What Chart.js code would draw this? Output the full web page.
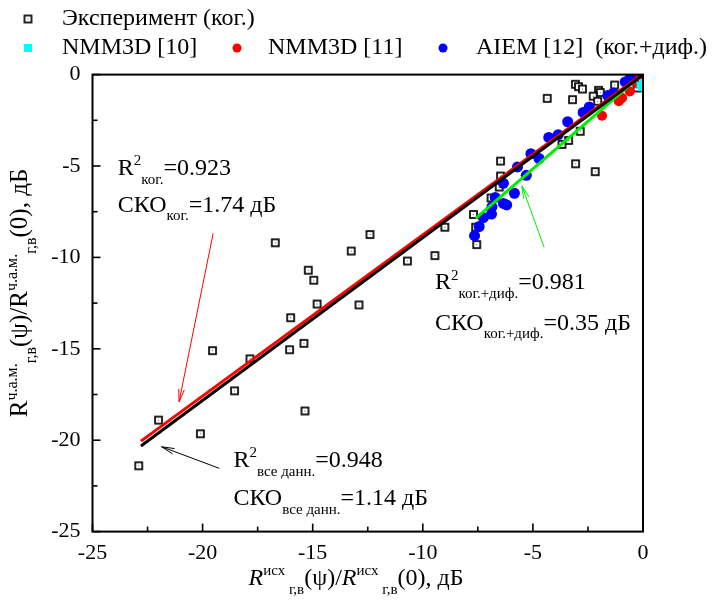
<!DOCTYPE html>
<html>
<head>
<meta charset="utf-8">
<script src="https://cdn.jsdelivr.net/npm/chart.js@4.4.1/dist/chart.umd.min.js"></script>
<style>
  html, body { margin: 0; padding: 0; background: #fff; }
  #wrap { width: 717px; height: 608px; }
</style>
</head>
<body>
<div id="wrap"><canvas id="chart" width="717" height="608"></canvas></div>
<script>
// ═══ data (dB) ═══
const expX = [-22.9, -22.0, -20.1, -19.55, -18.55, -17.85, -16.05, -15.4, -15.35, -16.7, -12.4, -13.25, -15.2, -14.95, -14.8, -16.0, -12.9, -10.7, -9.45, -9.0, -7.6, -7.55, -6.47, -6.47, -6.53, -6.9, -7.7, -3.06, -2.17, -4.35, -3.2, -3.07, -2.93, -2.75, -2.02, -1.94, -2.26, -2.06, -1.29, -0.27, -3.38, -3.68, -2.85];
const expY = [-21.4, -18.9, -19.65, -15.1, -17.3, -15.55, -15.05, -14.7, -18.4, -9.2, -8.75, -9.65, -10.7, -11.25, -12.55, -13.3, -12.6, -10.2, -9.9, -8.35, -8.35, -9.3, -4.73, -5.55, -6.15, -6.75, -7.65, -4.88, -5.31, -1.3, -1.37, -0.53, -0.66, -0.79, -0.86, -0.98, -1.18, -1.46, -0.57, -0.73, -3.6, -3.82, -3.1];

const nmm10X = [-0.15, -0.08, -0.04];
const nmm10Y = [-0.57, -0.72, -0.42];

const nmm11X = [-1.86, -1.1, -0.95, -0.6, -0.3, -0.12];
const nmm11Y = [-2.25, -1.46, -1.28, -0.92, -0.47, -0.2];

const aiemX = [-7.65, -7.44, -7.25, -6.88, -6.86, -6.71, -6.34, -6.19, -5.84, -6.34, -5.7, -5.3, -5.09, -4.72, -4.28, -3.85, -3.42, -2.72, -2.44, -1.6, -1.34, -0.81, -0.63, -0.35, -0.21];
const aiemY = [-8.81, -8.31, -7.83, -7.63, -7.23, -6.72, -7.05, -7.13, -6.49, -5.95, -5.05, -5.51, -4.33, -4.59, -3.44, -3.29, -2.58, -2.07, -1.77, -1.15, -1.0, -0.4, -0.27, -0.15, -0.05];

// regression lines: coherent, all data, coherent+diffuse
const fitCohX = [-22.8, 0];
const fitCohY = [-20.05, 0.05];
const fitAllX = [-22.8, 0];
const fitAllY = [-20.32, -0.02];
const fitCdX = [-7.6, 0];
const fitCdY = [-7.86, 0.05];

const axisMin = -25;
const axisMax = 0;
const axisStep = 5;

const legendLabels = ["Эксперимент (ког.)", "NMM3D [10]", "NMM3D [11]", "AIEM [12]  (ког.+диф.)"];

// annotations, anchored in data units
const notes = [
  { x: -23.85, y: -5.49, head: "R", sup: "2", sub: "ког.", tail: "=0.923" },
  { x: -23.85, y: -7.5, head: "СКО", sup: "", sub: "ког.", tail: "=1.74 дБ" },
  { x: -9.45, y: -11.75, head: "R", sup: "2", sub: "ког.+диф.", tail: "=0.981" },
  { x: -9.45, y: -13.95, head: "СКО", sup: "", sub: "ког.+диф.", tail: "=0.35 дБ" },
  { x: -18.6, y: -21.47, head: "R", sup: "2", sub: "все данн.", tail: "=0.948" },
  { x: -18.6, y: -23.54, head: "СКО", sup: "", sub: "все данн.", tail: "=1.14 дБ" },
];
const arrows = [
  { from: [-19.52, -8.68], to: [-21.07, -17.9], color: "#ff0000" },
  { from: [-19.24, -21.54], to: [-21.86, -20.36], color: "#000000" },
  { from: [-4.49, -9.45], to: [-5.5, -6.09], color: "#00ee00" },
];

const FONT = '"Liberation Serif", "Times New Roman", serif';
const zip = (xs, ys) => xs.map((x, i) => ({ x, y: ys[i] }));

function expMarker() {
  const c = document.createElement("canvas");
  c.width = 11; c.height = 11;
  const g = c.getContext("2d");
  g.fillStyle = "#fff";
  g.fillRect(2, 2, 7, 7);
  g.strokeStyle = "#000";
  g.lineWidth = 1.7;
  g.strokeRect(2, 2, 7, 7);
  g.fillStyle = "#666";
  g.fillRect(5, 5, 1, 1);
  return c;
}
const expStyle = expMarker();

// draws text with Origin-like super/subscripts, returns width
function drawRich(ctx, x, y, parts, M, S, measureOnly) {
  let cx = x;
  parts.forEach((p) => {
    if (!p.t) return;
    const size = p.k === "n" ? M : S;
    ctx.font = `${p.i ? "italic " : ""}${size}px ${FONT}`;
    const dy = p.k === "sup" ? -0.4 * M : p.k === "sub" ? 0.36 * M : 0;
    if (!measureOnly) ctx.fillText(p.t, cx, y + dy);
    cx += ctx.measureText(p.t).width;
  });
  return cx - x;
}

const yTitle = [
  { t: "R", k: "n" }, { t: "ч.а.м.", k: "sup" }, { t: "г,в", k: "sub" }, { t: "(ψ)/R", k: "n" },
  { t: "ч.а.м.", k: "sup" }, { t: "г,в", k: "sub" }, { t: "(0), дБ", k: "n" },
];
const xTitle = [
  { t: "R", k: "n", i: 1 }, { t: "исх", k: "sup" }, { t: " г,в", k: "sub" }, { t: "(ψ)/", k: "n" },
  { t: "R", k: "n", i: 1 }, { t: "исх", k: "sup" }, { t: " г,в", k: "sub" }, { t: "(0), дБ", k: "n" },
];

const decorPlugin = {
  id: "decor",
  afterDatasetsDraw(chart) {
    const { ctx, chartArea: a } = chart;
    const xs = chart.scales.x, ys = chart.scales.y;
    ctx.save();

    // frame
    ctx.strokeStyle = "#000";
    ctx.lineWidth = 2;
    ctx.strokeRect(a.left, a.top, a.right - a.left, a.bottom - a.top);

    // inward ticks, major + minor
    ctx.lineWidth = 1.6;
    const vals = xs.ticks.map((t) => t.value);
    const minor = vals.slice(1).map((v, i) => (v + vals[i]) / 2);
    const tick = (v, len) => {
      const px = xs.getPixelForValue(v);
      ctx.beginPath(); ctx.moveTo(px, a.bottom); ctx.lineTo(px, a.bottom - len); ctx.stroke();
      const py = ys.getPixelForValue(v);
      ctx.beginPath(); ctx.moveTo(a.left, py); ctx.lineTo(a.left + len, py); ctx.stroke();
    };
    vals.forEach((v) => tick(v, 8));
    minor.forEach((v) => tick(v, 5));

    // arrows
    arrows.forEach((ar) => {
      const x1 = xs.getPixelForValue(ar.from[0]), y1 = ys.getPixelForValue(ar.from[1]);
      const x2 = xs.getPixelForValue(ar.to[0]), y2 = ys.getPixelForValue(ar.to[1]);
      const ang = Math.atan2(y2 - y1, x2 - x1);
      ctx.strokeStyle = ar.color;
      ctx.lineWidth = 1;
      ctx.beginPath(); ctx.moveTo(x1, y1); ctx.lineTo(x2, y2); ctx.stroke();
      ctx.beginPath();
      ctx.moveTo(x2 - 13 * Math.cos(ang - 0.22), y2 - 13 * Math.sin(ang - 0.22));
      ctx.lineTo(x2, y2);
      ctx.lineTo(x2 - 13 * Math.cos(ang + 0.22), y2 - 13 * Math.sin(ang + 0.22));
      ctx.stroke();
    });

    // annotations
    ctx.fillStyle = "#000";
    ctx.textBaseline = "alphabetic";
    ctx.textAlign = "left";
    notes.forEach((n) => {
      drawRich(ctx, xs.getPixelForValue(n.x), ys.getPixelForValue(n.y), [
        { t: n.head, k: "n" }, { t: n.sup, k: "sup" }, { t: n.sub, k: "sub" }, { t: n.tail, k: "n" },
      ], 24, 15);
    });

    // axis titles
    const xw = drawRich(ctx, 0, 0, xTitle, 24, 15, true);
    drawRich(ctx, 356 - xw / 2, 585, xTitle, 24, 15);
    const yw = drawRich(ctx, 0, 0, yTitle, 25, 16, true);
    ctx.translate(27, 293 + yw / 2);
    ctx.rotate(-Math.PI / 2);
    drawRich(ctx, 0, 0, yTitle, 25, 16);
    ctx.setTransform(1, 0, 0, 1, 0, 0);

    // legend
    ctx.font = `24px ${FONT}`;
    ctx.textBaseline = "middle";
    ctx.drawImage(expStyle, 28 - 5.5, 19 - 5.5);
    ctx.fillText(legendLabels[0], 62, 19);
    ctx.fillStyle = "#00ffff";
    ctx.fillRect(24, 44, 8, 8);
    ctx.fillStyle = "#000";
    ctx.fillText(legendLabels[1], 62, 48);
    ctx.fillStyle = "#ff0000";
    ctx.beginPath(); ctx.arc(237, 48, 4.5, 0, Math.PI * 2); ctx.fill();
    ctx.fillStyle = "#000";
    ctx.fillText(legendLabels[2], 268, 48);
    ctx.fillStyle = "#0000ff";
    ctx.beginPath(); ctx.arc(443, 48, 4.5, 0, Math.PI * 2); ctx.fill();
    ctx.fillStyle = "#000";
    ctx.fillText(legendLabels[3], 476, 48);

    ctx.restore();
  },
};

const lineDs = (xs, ys, color) => ({
  data: zip(xs, ys), showLine: true, borderColor: color, borderWidth: 3,
  pointRadius: 0, fill: false, order: 0,
});

new Chart(document.getElementById("chart"), {
  type: "scatter",
  data: {
    datasets: [
      lineDs(fitAllX, fitAllY, "#000000"),
      lineDs(fitCohX, fitCohY, "#ff0000"),
      lineDs(fitCdX, fitCdY, "#00ee00"),
      { data: zip(nmm10X, nmm10Y), pointStyle: "rect", pointRadius: 4.5, backgroundColor: "#00ffff", borderWidth: 0, order: 1 },
      { data: zip(nmm11X, nmm11Y), pointRadius: 5, backgroundColor: "#ff0000", borderWidth: 0, order: 1 },
      { data: zip(aiemX, aiemY), pointRadius: 5.5, backgroundColor: "#0000ff", borderWidth: 0, order: 2 },
      { data: zip(expX, expY), pointStyle: expStyle, pointRadius: 5, order: 3 },
    ],
  },
  options: {
    responsive: false,
    animation: false,
    events: [],
    layout: { autoPadding: false, padding: { left: 0, right: 74, top: 74.6, bottom: 0 } },
    plugins: { legend: { display: false }, tooltip: { enabled: false } },
    scales: {
      x: {
        type: "linear", min: axisMin, max: axisMax,
        grid: { display: false, drawTicks: false },
        border: { display: false },
        ticks: { stepSize: axisStep, autoSkip: false, maxRotation: 0, padding: 8, color: "#000", font: { family: FONT, size: 22 } },
        afterFit: (s) => { s.height = 76.4; },
      },
      y: {
        type: "linear", min: axisMin, max: axisMax,
        grid: { display: false, drawTicks: false },
        border: { display: false },
        ticks: { stepSize: axisStep, autoSkip: false, padding: 12, color: "#000", font: { family: FONT, size: 22 } },
        afterFit: (s) => { s.width = 92.5; },
      },
    },
  },
  plugins: [decorPlugin],
});
</script>
</body>
</html>
